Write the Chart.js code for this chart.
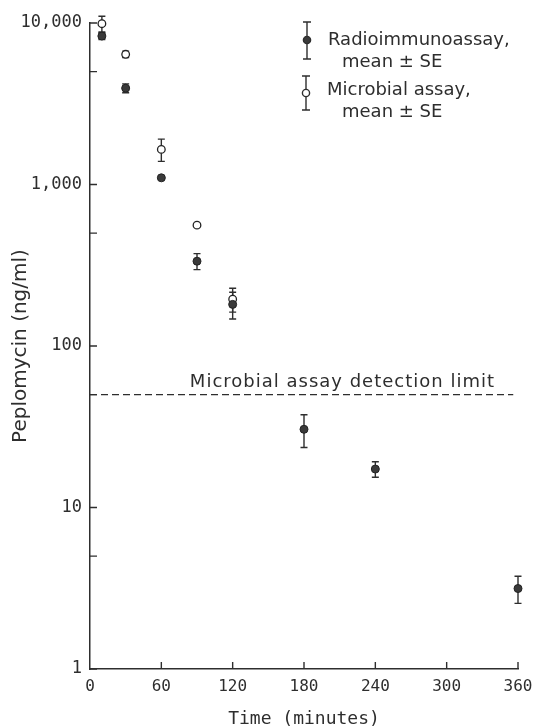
<!DOCTYPE html>
<html>
<head>
<meta charset="utf-8">
<script src="https://cdn.jsdelivr.net/npm/chart.js@4.4.1/dist/chart.umd.min.js"></script>
<style>
  html, body { margin: 0; padding: 0; background: #fff; }
  #wrap { width: 535px; height: 728px; position: relative; }
</style>
</head>
<body>
<div id="wrap"><canvas id="chart"></canvas></div>
<script>
// values (ng/ml vs minutes)
const times = [10, 30, 60, 90, 120, 180, 240, 360];
const riaMean = [8300, 3950, 1100, 335, 181, 30.5, 17.3, 3.15];
const riaSE = [400, 250, 0, 38, 34, 7, 1.9, 0.6];
const microTimes = [10, 30, 60, 90, 120];
const microMean = [9900, 6400, 1650, 560, 195];
const microSE = [1100, 300, 260, 0, 33];
const xTicks = [0, 60, 120, 180, 240, 300, 360];
const yTicks = [1, 5, 10, 50, 100, 500, 1000, 5000, 10000];
const detectionLimit = 50;
const limitLabel = 'Microbial assay detection limit';
const limitLabelAt = 84; // minutes, left edge of label

const ink = '#2e2e2e';
const mono = 'DejaVu Sans Mono';
const sans = 'DejaVu Sans';

const toPoints = (xs, ys, ses) => xs.map((t, i) => ({ x: t, y: ys[i], se: ses[i] }));

// error bars under the markers
const errorBars = {
  id: 'errorBars',
  beforeDatasetsDraw(chart) {
    const { ctx, scales: { x, y } } = chart;
    ctx.save();
    ctx.strokeStyle = ink;
    ctx.lineWidth = 1.4;
    chart.data.datasets.forEach(ds => {
      ds.data.forEach(p => {
        if (!p.se) return;
        const px = x.getPixelForValue(p.x);
        const hi = y.getPixelForValue(p.y + p.se);
        const lo = y.getPixelForValue(p.y - p.se);
        ctx.beginPath();
        ctx.moveTo(px, hi); ctx.lineTo(px, lo);
        ctx.moveTo(px - 3.5, hi); ctx.lineTo(px + 3.5, hi);
        ctx.moveTo(px - 3.5, lo); ctx.lineTo(px + 3.5, lo);
        ctx.stroke();
      });
    });
    ctx.restore();
  }
};

// inward tick marks, detection limit line, legend
const decorations = {
  id: 'decorations',
  afterDraw(chart) {
    const { ctx, chartArea: ca, scales: { x, y } } = chart;
    ctx.save();
    ctx.strokeStyle = ink;
    ctx.lineWidth = 1.4;
    ctx.beginPath();
    yTicks.forEach(v => {
      const py = y.getPixelForValue(v);
      ctx.moveTo(ca.left, py); ctx.lineTo(ca.left + 7, py);
    });
    xTicks.slice(1).forEach(v => {
      const px = x.getPixelForValue(v);
      ctx.moveTo(px, ca.bottom); ctx.lineTo(px, ca.bottom - 7);
    });
    ctx.stroke();

    // detection limit
    const ly = y.getPixelForValue(detectionLimit);
    ctx.setLineDash([7, 4]);
    ctx.beginPath();
    ctx.moveTo(ca.left, ly);
    ctx.lineTo(x.getPixelForValue(356), ly);
    ctx.stroke();
    ctx.setLineDash([]);
    ctx.fillStyle = ink;
    ctx.font = '18px ' + sans;
    ctx.letterSpacing = '1px';
    ctx.textAlign = 'left';
    ctx.textBaseline = 'alphabetic';
    ctx.fillText(limitLabel, x.getPixelForValue(limitLabelAt), ly - 8);
    ctx.letterSpacing = '0px';

    // legend
    const icon = (cx, cy, top, bot, filled) => {
      ctx.beginPath();
      ctx.moveTo(cx, top); ctx.lineTo(cx, bot);
      ctx.moveTo(cx - 4, top); ctx.lineTo(cx + 4, top);
      ctx.moveTo(cx - 4, bot); ctx.lineTo(cx + 4, bot);
      ctx.stroke();
      ctx.beginPath();
      ctx.arc(cx, cy, 3.6, 0, Math.PI * 2);
      ctx.fillStyle = filled ? '#3a3a3a' : '#fff';
      ctx.fill();
      ctx.stroke();
    };
    icon(307, 40, 22, 59, true);
    icon(306, 93, 76, 110, false);
    ctx.fillStyle = ink;
    ctx.font = '18px ' + sans;
    ctx.textBaseline = 'middle';
    ctx.fillText('Radioimmunoassay,', 328, 40);
    ctx.fillText('mean \u00b1 SE', 342, 62);
    ctx.fillText('Microbial assay,', 327, 90);
    ctx.fillText('mean \u00b1 SE', 342, 112);
    ctx.restore();
  }
};

new Chart(document.getElementById('chart'), {
  type: 'scatter',
  data: {
    datasets: [
      {
        label: 'Radioimmunoassay, mean \u00b1 SE',
        data: toPoints(times, riaMean, riaSE),
        pointRadius: 4,
        pointBackgroundColor: '#3a3a3a',
        pointBorderColor: '#222',
        pointBorderWidth: 1,
        order: 0,
        clip: false
      },
      {
        label: 'Microbial assay, mean \u00b1 SE',
        data: toPoints(microTimes, microMean, microSE),
        pointRadius: 3.8,
        pointBackgroundColor: '#fff',
        pointBorderColor: '#222',
        pointBorderWidth: 1.3,
        order: 1,
        clip: false
      }
    ]
  },
  options: {
    responsive: true,
    maintainAspectRatio: false,
    animation: false,
    layout: { padding: { top: 23, right: 17, left: 0, bottom: 0 } },
    plugins: { legend: { display: false }, tooltip: { enabled: false } },
    scales: {
      x: {
        type: 'linear',
        min: 0,
        max: 360,
        afterBuildTicks: s => { s.ticks = xTicks.map(v => ({ value: v })); },
        afterFit: s => { s.height = 59; s.paddingLeft = 0; s.paddingRight = 0; },
        grid: { display: false, drawTicks: false },
        border: { display: true, color: ink, width: 1.5 },
        ticks: { color: ink, padding: 8, maxRotation: 0, font: { family: mono, size: 16 } },
        title: {
          display: true,
          text: 'Time (minutes)',
          color: ink,
          padding: { top: 0, bottom: 0 },
          font: { family: mono, size: 18, lineHeight: 1 }
        }
      },
      y: {
        type: 'logarithmic',
        min: 1,
        max: 10000,
        afterBuildTicks: s => { s.ticks = yTicks.map(v => ({ value: v })); },
        afterFit: s => { s.width = 90; s.paddingTop = 0; s.paddingBottom = 0; },
        grid: { display: false, drawTicks: false },
        border: { display: true, color: ink, width: 1.5 },
        ticks: {
          color: ink,
          padding: 8,
          font: { family: mono, size: 17 },
          callback: v => (Math.log10(v) % 1 === 0 ? v.toLocaleString('en-US') : '')
        },
        title: {
          display: true,
          text: 'Peplomycin (ng/ml)',
          color: ink,
          padding: { top: 9, bottom: 0 },
          font: { family: sans, size: 20, lineHeight: 1.2 }
        }
      }
    }
  },
  plugins: [errorBars, decorations]
});
</script>
</body>
</html>
